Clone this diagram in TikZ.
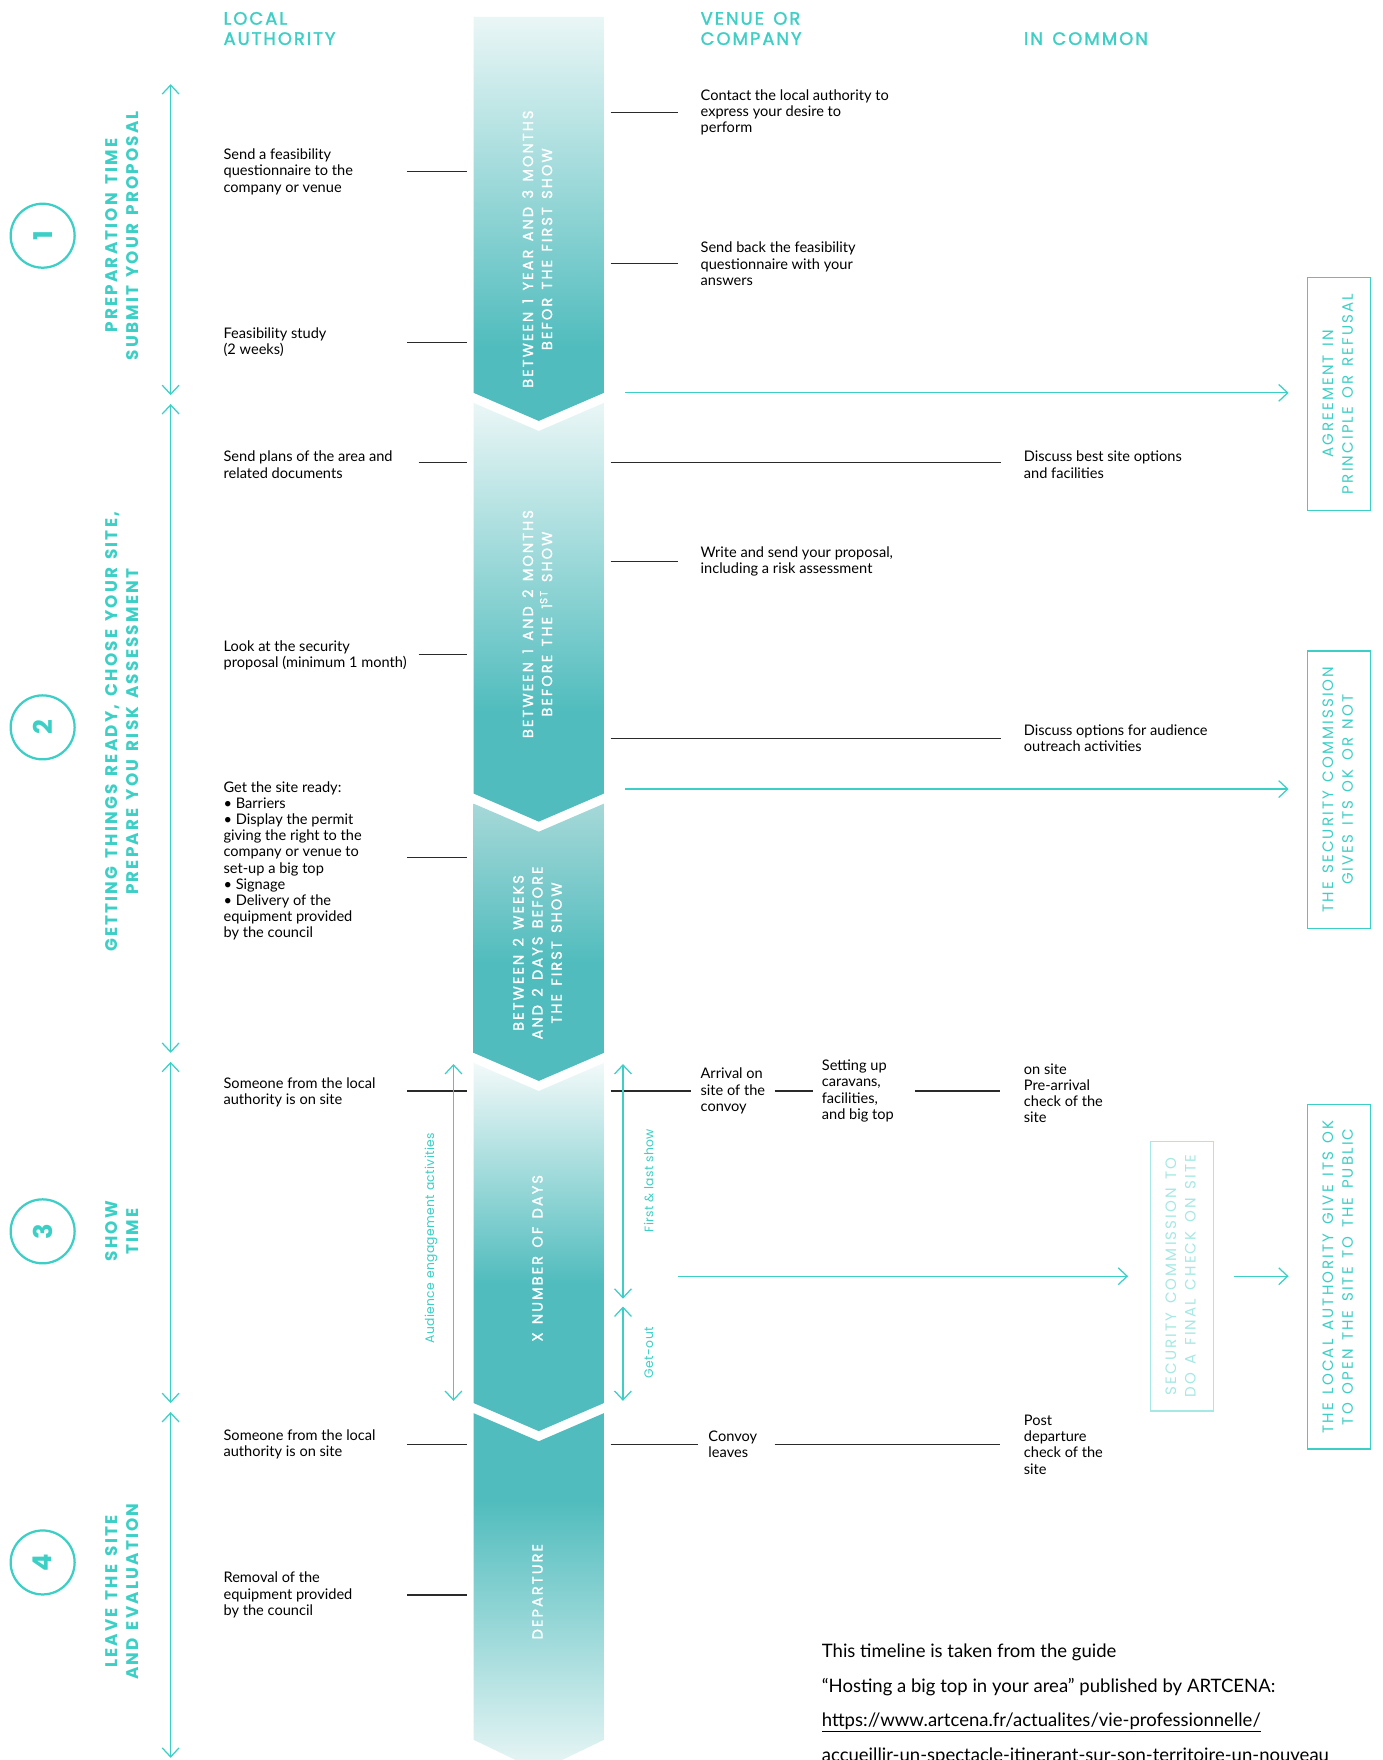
\documentclass[tikz,border=0pt]{standalone}
\usepackage{fontspec}
\setmainfont{Lato}
\newfontfamily\headfont[LetterSpace=11,WordSpace=1.4,FakeBold=1.5]{Poppins}
\newfontfamily\titlefont[LetterSpace=13,WordSpace=1.4]{Poppins}
\newfontfamily\trackfont[LetterSpace=14,WordSpace=1.4,FakeBold=1.2]{Poppins}
\newfontfamily\boxfont[LetterSpace=14,WordSpace=1.4]{Poppins}
\newfontfamily\labfont[LetterSpace=3]{Poppins}
\usetikzlibrary{arrows.meta}
\definecolor{teal1}{HTML}{3CCFC5}
\definecolor{teallt}{HTML}{A6E8E3}
\definecolor{chdark}{HTML}{50BCBD}
\definecolor{chlight}{HTML}{EAF6F6}
\definecolor{chmid}{HTML}{A6D8D8}
\definecolor{chwhite}{HTML}{F2F9F9}
\definecolor{ink}{HTML}{2A2A2A}
\pgfdeclareverticalshading{shA}{100bp}{color(0bp)=(chdark); color(34bp)=(chdark); color(75bp)=(chlight); color(100bp)=(chlight)}
\pgfdeclareverticalshading{shB}{100bp}{color(0bp)=(chdark); color(38bp)=(chdark); color(75bp)=(chlight); color(100bp)=(chlight)}
\pgfdeclareverticalshading{shC}{100bp}{color(0bp)=(chdark); color(46bp)=(chdark); color(75bp)=(chmid); color(100bp)=(chmid)}
\pgfdeclareverticalshading{shD}{100bp}{color(0bp)=(chdark); color(45bp)=(chdark); color(75bp)=(chwhite); color(100bp)=(chwhite)}
\pgfdeclareverticalshading{shE}{100bp}{color(0bp)=(chlight); color(25bp)=(chlight); color(63bp)=(chdark); color(100bp)=(chdark)}
\newcommand\vrt[1]{\rotatebox{90}{\begin{tabular}{@{}c@{}}#1\end{tabular}}}
\tikzset{
 conn/.style={draw=ink, line width=1.2pt},
 tline/.style={draw=teal1, line width=1.1pt},
 tarrow/.style={tline, -{Straight Barb[length=8pt,width=15pt]}},
 tdouble/.style={tline, {Straight Barb[length=8pt,width=15pt]}-{Straight Barb[length=8pt,width=15pt]}},
 body/.style={font=\fontsize{13}{14.4}\selectfont, align=left, anchor=west, inner sep=0pt, text=black},
 head/.style={font=\headfont\fontsize{16}{18}\selectfont, text=teal1, anchor=base west, inner sep=0pt},
 ptitle/.style={font=\titlefont\bfseries\fontsize{15}{19}\selectfont, text=teal1, inner sep=0pt},
 chtext/.style={font=\trackfont\fontsize{13}{17}\selectfont, text=white, inner sep=0pt},
 numcirc/.style={circle, draw=teal1, line width=2pt, minimum size=57pt, inner sep=0pt, text=teal1, font=\titlefont\bfseries\fontsize{23}{23}\selectfont},
 vbox/.style={draw=teal1, line width=1.3pt, minimum width=56pt, inner sep=0pt, text=teal1, font=\boxfont\fontsize{13.4}{17.5}\selectfont},
 lab/.style={font=\labfont\fontsize{11}{14}\selectfont, text=teal1, inner sep=0pt},
 foot/.style={font=\fontsize{16.5}{20}\selectfont, anchor=base west, inner sep=0pt, text=black},
}
\begin{document}
\begin{tikzpicture}[x=1pt,y=-1pt]
\useasboundingbox (0,0) rectangle (1232,1568);
\fill[white] (0,0) rectangle (1232,1568);

% ---------- chevrons ----------
\shade[shading=shA] (422,15) -- (538,15) -- (538,350) -- (480,375) -- (422,350) -- cycle;
\shade[shading=shB] (422,359) -- (480,384) -- (538,359) -- (538,707) -- (480,732) -- (422,707) -- cycle;
\shade[shading=shC] (422,716) -- (480,741) -- (538,716) -- (538,938) -- (480,963) -- (422,938) -- cycle;
\shade[shading=shD] (422,947) -- (480,972) -- (538,947) -- (538,1250) -- (480,1275) -- (422,1250) -- cycle;
\shade[shading=shE] (422,1259) -- (480,1284) -- (538,1259) -- (538,1550) -- (480,1578) -- (422,1550) -- cycle;

\node[chtext] (ct1) at (480,222) {\vrt{BETWEEN 1 YEAR AND 3 MONTHS\\BEFOR THE FIRST SHOW}};
\node[chtext] (ct2) at (480,556) {\vrt{BETWEEN 1 AND 2 MONTHS\\BEFORE THE 1\textsuperscript{ST} SHOW}};
\node[chtext] (ct3) at (480,849) {\vrt{BETWEEN 2 WEEKS\\AND 2 DAYS BEFORE\\THE FIRST SHOW}};
\node[chtext] (ct4) at (480,1121) {\vrt{X NUMBER OF DAYS}};
\node[chtext] (ct5) at (480,1418) {\vrt{DEPARTURE}};

% ---------- headers ----------
\node[head] (h1a) at (199,22) {LOCAL};
\node[head] (h1b) at (199,40) {AUTHORITY};
\node[head] (h2a) at (624,22) {VENUE OR};
\node[head] (h2b) at (624,40) {COMPANY};
\node[head] (h3) at (912,40) {IN COMMON};

% ---------- phases ----------
\node[numcirc] (p1) at (38,210) {\rotatebox{90}{1}};
\node[numcirc] (p2) at (38,648) {\rotatebox{90}{2}};
\node[numcirc] (p3) at (38,1097) {\rotatebox{90}{3}};
\node[numcirc] (p4) at (38,1392) {\rotatebox{90}{4}};

\node[ptitle] (t1) at (110,210) {\vrt{PREPARATION TIME\\SUBMIT YOUR PROPOSAL}};
\node[ptitle] (t2) at (110,652) {\vrt{GETTING THINGS READY, CHOSE YOUR SITE,\\PREPARE YOU RISK ASSESSMENT}};
\node[ptitle] (t3) at (110,1097) {\vrt{SHOW\\TIME}};
\node[ptitle] (t4) at (110,1418) {\vrt{LEAVE THE SITE\\AND EVALUATION}};

\coordinate (a1t) at (152,75);   \coordinate (a1b) at (152,352);
\coordinate (a2t) at (152,360);  \coordinate (a2b) at (152,938);
\coordinate (a3t) at (152,946);  \coordinate (a3b) at (152,1250);
\coordinate (a4t) at (152,1258); \coordinate (a4b) at (152,1566);
\draw[tdouble] (a1t) -- (a1b);
\draw[tdouble] (a2t) -- (a2b);
\draw[tdouble] (a3t) -- (a3b);
\draw[tdouble] (a4t) -- (a4b);

% ---------- left texts ----------
\node[body] (ls1) at (199,153) {Send a feasibility\\questionnaire to the\\company or venue};
\node[body] (ls2) at (199,305) {Feasibility study\\(2 weeks)};
\node[body] (ls3) at (199,414) {Send plans of the area and\\related documents};
\node[body] (ls4) at (199,584) {Look at the security\\proposal (minimum 1 month)};
\node[body] (ls5) at (199,767) {Get the site ready:\\• Barriers\\• Display the permit\\giving the right to the\\company or venue to\\set-up a big top\\• Signage\\• Delivery of the\\equipment provided\\by the council};
\node[body] (ls6) at (199,973) {Someone from the local\\authority is on site};
\node[body] (ls7) at (199,1287) {Someone from the local\\authority is on site};
\node[body] (ls8) at (199,1421) {Removal of the\\equipment provided\\by the council};

\coordinate (l1a) at (363,153);  \coordinate (l1b) at (416,153);
\coordinate (l2a) at (363,305);  \coordinate (l2b) at (416,305);
\coordinate (l3a) at (373,412);  \coordinate (l3b) at (416,412);
\coordinate (l4a) at (373,583);  \coordinate (l4b) at (416,583);
\coordinate (l5a) at (363,764);  \coordinate (l5b) at (416,764);
\coordinate (l6a) at (363,972);  \coordinate (l6b) at (416,972);
\coordinate (l7a) at (363,1287); \coordinate (l7b) at (416,1287);
\coordinate (l8a) at (363,1421); \coordinate (l8b) at (416,1421);
\foreach \i in {1,...,8} {\draw[conn] (l\i a) -- (l\i b);}

% ---------- right texts ----------
\node[body] (rs1) at (624,100) {Contact the local authority to\\express your desire to\\perform};
\node[body] (rs2) at (624,235) {Send back the feasibility\\questionnaire with your\\answers};
\node[body] (rs3) at (912,414) {Discuss best site options\\and facilities};
\node[body] (rs4) at (624,500) {Write and send your proposal,\\including a risk assessment};
\node[body] (rs5) at (912,658) {Discuss options for audience\\outreach activities};
\node[body] (r3a) at (624,972) {Arrival on\\site of the\\convoy};
\node[body] (r3b) at (732,972) {Setting up\\caravans,\\facilities,\\and big top};
\node[body] (r3c) at (912,974) {on site\\Pre-arrival\\check of the\\site};
\node[body] (r4a) at (631,1287) {Convoy\\leaves};
\node[body] (r4b) at (912,1287) {Post\\departure\\check of the\\site};

\coordinate (m1a) at (544,100);  \coordinate (m1b) at (604,100);
\coordinate (m2a) at (544,235);  \coordinate (m2b) at (604,235);
\coordinate (m3a) at (544,412);  \coordinate (m3b) at (892,412);
\coordinate (m4a) at (544,500);  \coordinate (m4b) at (604,500);
\coordinate (m5a) at (544,658);  \coordinate (m5b) at (892,658);
\coordinate (m6a) at (544,972);  \coordinate (m6b) at (616,972);
\coordinate (m7a) at (690,972);  \coordinate (m7b) at (724,972);
\coordinate (m8a) at (815,972);  \coordinate (m8b) at (891,972);
\coordinate (m9a) at (544,1287); \coordinate (m9b) at (622,1287);
\coordinate (m10a) at (690,1287); \coordinate (m10b) at (891,1287);
\foreach \i in {1,...,10} {\draw[conn] (m\i a) -- (m\i b);}

% ---------- show-time arrows ----------
\coordinate (e1t) at (404,948); \coordinate (e1b) at (404,1248);
\coordinate (f1t) at (555,948); \coordinate (f1b) at (555,1157);
\coordinate (g1t) at (555,1164); \coordinate (g1b) at (555,1248);
\draw[tdouble] (e1t) -- (e1b);
\draw[tdouble] (f1t) -- (f1b);
\draw[tdouble] (g1t) -- (g1b);
\node[lab] (la) at (384,1103) {\rotatebox{90}{Audience engagement activities}};
\node[lab] (lb) at (578,1052) {\rotatebox{90}{First \& last show}};
\node[lab] (lc) at (578,1205) {\rotatebox{90}{Get-out}};

% ---------- boxes ----------
\node[vbox, minimum height=208pt] (bA) at (1193,351) {\vrt{AGREEMENT IN\\PRINCIPLE OR REFUSAL}};
\node[vbox, minimum height=247pt] (bB) at (1193,703.5) {\vrt{THE SECURITY COMMISSION\\GIVES ITS OK OR NOT}};
\node[vbox, minimum height=240pt, draw=teallt, text=teallt] (bC) at (1053,1137) {\vrt{SECURITY COMMISSION TO\\DO A FINAL CHECK ON SITE}};
\node[vbox, minimum height=307pt] (bD) at (1193,1137.5) {\vrt{THE LOCAL AUTHORITY GIVE ITS OK\\TO OPEN THE SITE TO THE PUBLIC}};

\coordinate (s1) at (557,350);  \coordinate (s1e) at (1148,350);
\coordinate (s2) at (557,703);  \coordinate (s2e) at (1148,703);
\coordinate (s3) at (604,1137); \coordinate (s3e) at (1005,1137);
\coordinate (s4) at (1099,1137); \coordinate (s4e) at (1148,1137);
\draw[tarrow] (s1) -- (s1e);
\draw[tarrow] (s2) -- (s2e);
\draw[tarrow] (s3) -- (s3e);
\draw[tarrow] (s4) -- (s4e);

% ---------- footer ----------
\node[foot] (f1) at (732,1477) {This timeline is taken from the guide};
\node[foot] (f2) at (732,1508) {“Hosting a big top in your area” published by ARTCENA:};
\node[foot] (f3) at (732,1538) {\underline{https://www.artcena.fr/actualites/vie-professionnelle/}};
\node[foot] (f4) at (732,1569) {\underline{accueillir-un-spectacle-itinerant-sur-son-territoire-un-nouveau}};
\end{tikzpicture}
\end{document}
